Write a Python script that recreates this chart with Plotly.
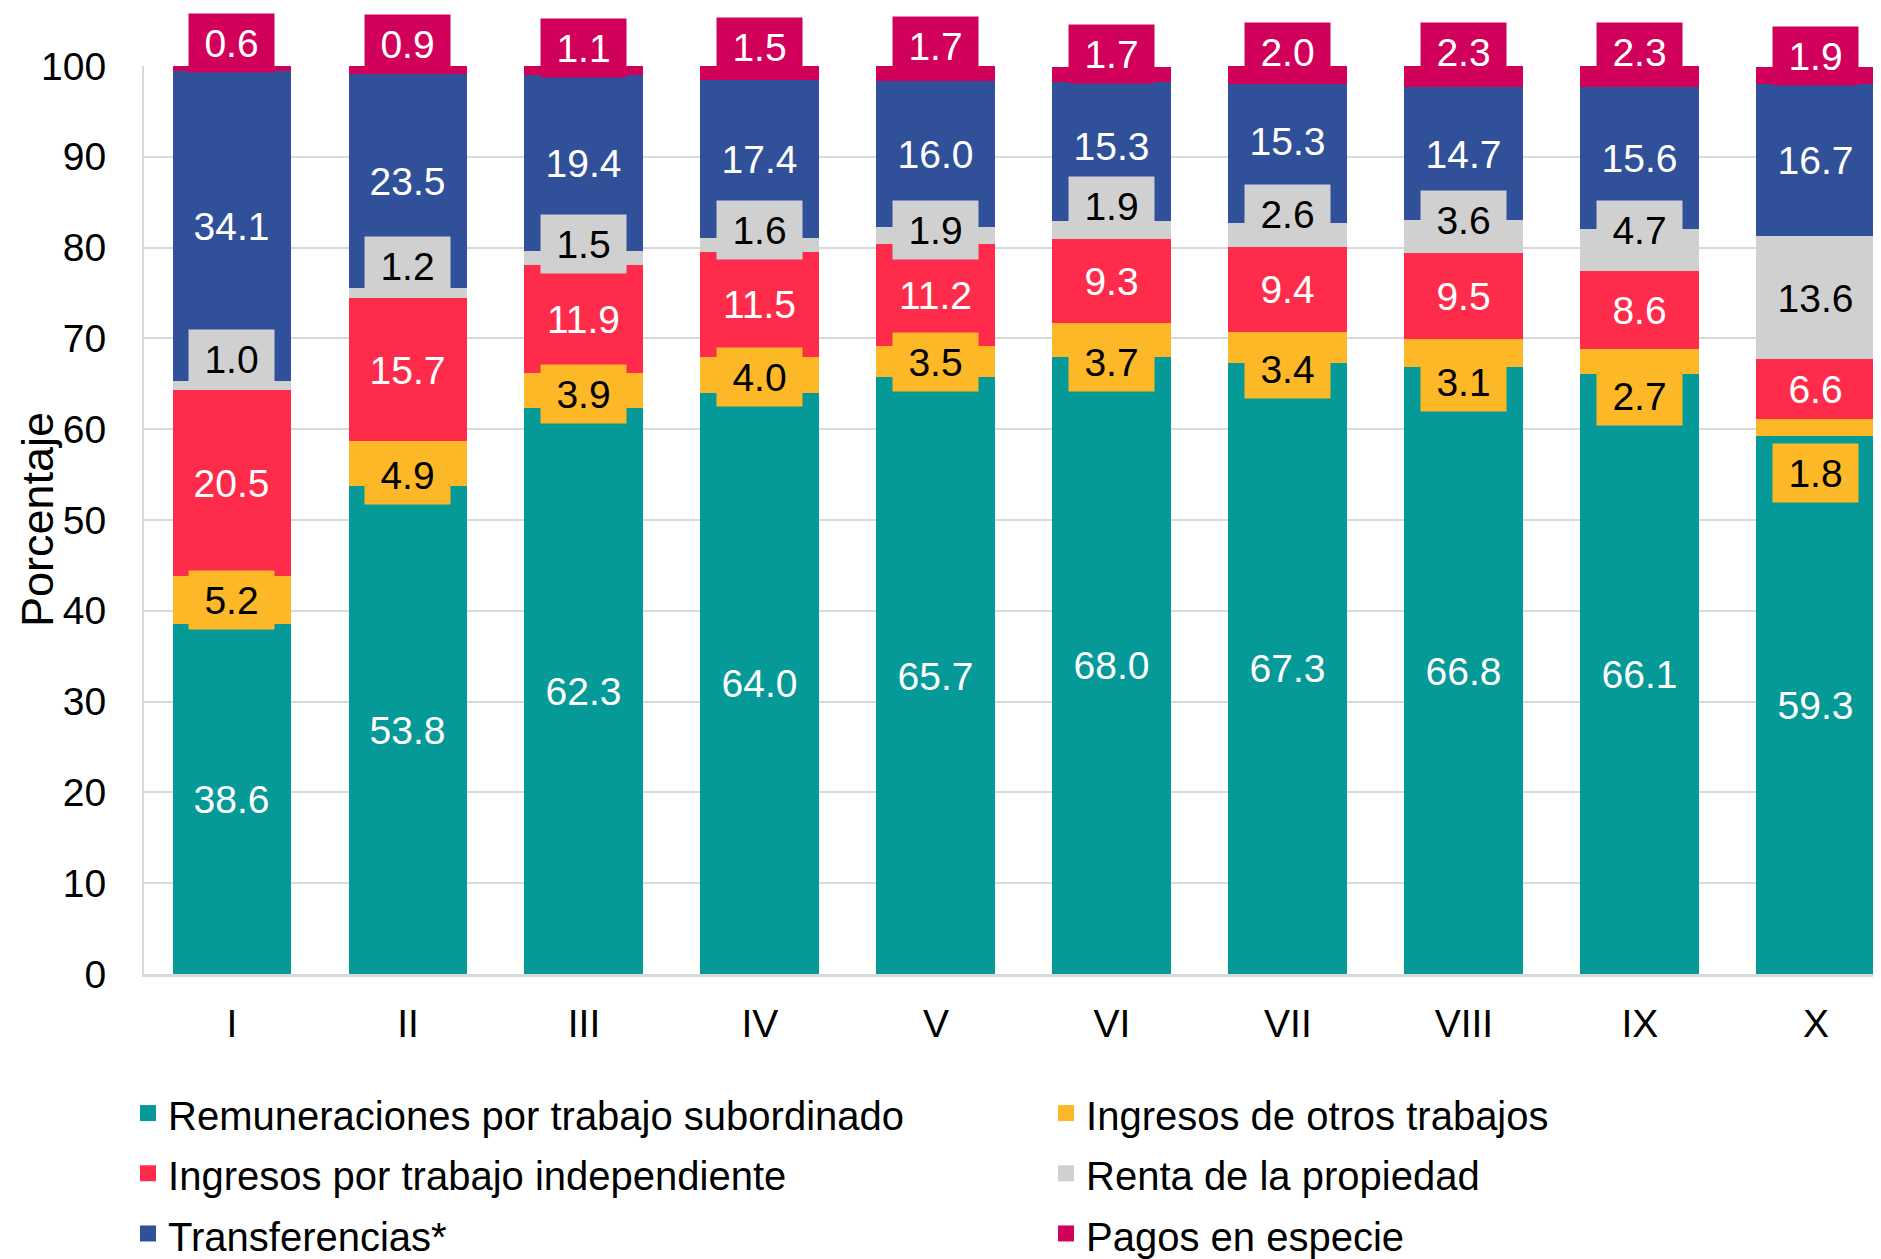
import plotly.graph_objects as go

deciles = ["I", "II", "III", "IV", "V", "VI", "VII", "VIII", "IX", "X"]

remuneraciones = [38.6, 53.8, 62.3, 64.0, 65.7, 68.0, 67.3, 66.8, 66.1, 59.3]
otros_trabajos = [5.2, 4.9, 3.9, 4.0, 3.5, 3.7, 3.4, 3.1, 2.7, 1.8]
independiente = [20.5, 15.7, 11.9, 11.5, 11.2, 9.3, 9.4, 9.5, 8.6, 6.6]
renta = [1.0, 1.2, 1.5, 1.6, 1.9, 1.9, 2.6, 3.6, 4.7, 13.6]
transferencias = [34.1, 23.5, 19.4, 17.4, 16.0, 15.3, 15.3, 14.7, 15.6, 16.7]
pagos_especie = [0.6, 0.9, 1.1, 1.5, 1.7, 1.7, 2.0, 2.3, 2.3, 1.9]

y_ticks = [0, 10, 20, 30, 40, 50, 60, 70, 80, 90, 100]

# (name, values, colour, label text colour, legend column)
series = [
    ("Remuneraciones por trabajo subordinado", remuneraciones, "#059A97", "white", "legend"),
    ("Ingresos de otros trabajos", otros_trabajos, "#FDB827", "black", "legend2"),
    ("Ingresos por trabajo independiente", independiente, "#FE2C4A", "white", "legend"),
    ("Renta de la propiedad", renta, "#D0D0D0", "black", "legend2"),
    ("Transferencias*", transferencias, "#31509A", "white", "legend"),
    ("Pagos en especie", pagos_especie, "#D1005A", "white", "legend2"),
]

# label vertical nudges in pixels (style only), per series index -> list per bar
label_shift = {
    1: [0, -12, -3, -2, 0, -22, -22, -29, -34, -46],
    3: [27, 27, 14, 15, 5, 24, 21, 17, 20, 0],
    4: [0, 0, 0, 0, 0, 6, 13, 0, 0, 0],
    5: [26, 26, 22, 26, 28, 21, 23, 24, 24, 20],
}

FONT = "Liberation Sans, Arial, sans-serif"
fig = go.Figure()
bases = [0.0] * len(deciles)
annotations = []
for si, (name, vals, color, tcolor, leg) in enumerate(series):
    fig.add_trace(go.Bar(
        name=name, x=list(range(len(deciles))), y=vals,
        marker=dict(color=color, line=dict(width=0)),
        width=0.676, hoverinfo="skip", showlegend=False,
    ))
    # legend entry with a larger square swatch
    fig.add_trace(go.Scatter(
        name=f'<span style="font-size:40px">{name}</span>',
        x=[None], y=[None], mode="markers",
        marker=dict(symbol="square", size=20, color=color),
        legend=leg, showlegend=True, hoverinfo="skip",
    ))
    shifts = label_shift.get(si, [0] * len(deciles))
    for i, v in enumerate(vals):
        annotations.append(dict(
            x=i, y=bases[i] + v / 2, xref="x", yref="y",
            text=f"{v:.1f}", showarrow=False,
            font=dict(family=FONT, size=39, color=tcolor),
            bgcolor=color, width=85, height=58, borderpad=0,
            xanchor="center", yanchor="middle", yshift=shifts[i],
        ))
        bases[i] += v

annotations.append(dict(
    x=0, y=0.5, xref="paper", yref="paper", xshift=-107,
    text="Porcentaje", textangle=-90, showarrow=False,
    font=dict(family=FONT, size=45, color="black"),
    xanchor="center", yanchor="middle",
))

legend_common = dict(
    orientation="v", traceorder="normal",
    yanchor="top", xanchor="left",
    font=dict(family=FONT, size=44, color="black"),
    itemclick=False, itemdoubleclick=False,
    bgcolor="rgba(0,0,0,0)",
)

fig.update_layout(
    width=1873, height=1251,
    margin=dict(l=136, r=0, t=58, b=285, autoexpand=False),
    barmode="stack",
    plot_bgcolor="white", paper_bgcolor="white",
    font=dict(family=FONT, size=39, color="black"),
    annotations=annotations,
    showlegend=True,
    legend=dict(x=-0.0092, y=-0.1145, **legend_common),
    legend2=dict(x=0.5193, y=-0.1145, **legend_common),
    xaxis=dict(
        tickmode="array", tickvals=list(range(len(deciles))), ticktext=deciles,
        range=[-0.5, 9.37], showgrid=False, zeroline=False,
        showline=True, linecolor="#D9D9D9", linewidth=3,
        ticks="outside", ticklen=13, tickcolor="rgba(0,0,0,0)",
        tickfont=dict(family=FONT, size=39, color="black"),
        fixedrange=True,
    ),
    yaxis=dict(
        range=[0, 100], tickvals=y_ticks,
        showgrid=True, gridcolor="#D9D9D9", gridwidth=2,
        zeroline=False, showline=True, linecolor="#D9D9D9", linewidth=2,
        ticks="outside", ticklen=28, tickcolor="rgba(0,0,0,0)",
        tickfont=dict(family=FONT, size=39, color="black"),
        fixedrange=True,
    ),
)

fig.write_html("out.html")
